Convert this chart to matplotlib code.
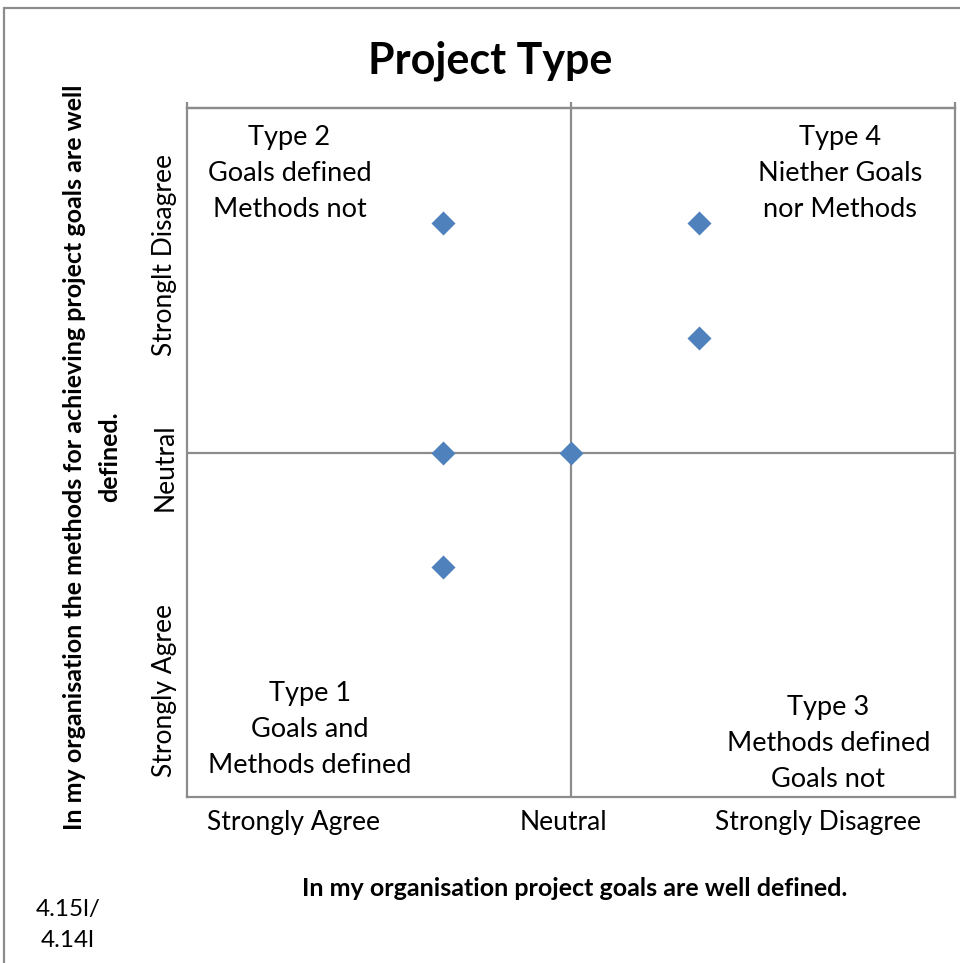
import matplotlib.pyplot as plt
from matplotlib.patches import Rectangle

plt.rcParams['font.family'] = ['Lato', 'DejaVu Sans']

# survey answers, scale 0..6 with neutral at 3
goals_x = [2, 4, 4, 2, 3, 2]
methods_y = [5, 5, 4, 3, 3, 2]

x_labels = ['Strongly Agree', 'Neutral', 'Strongly Disagree']
y_labels = ['Strongly Agree', 'Neutral', 'Stronglt Disagree']

quadrants = [
    'Type 2\nGoals defined\nMethods not',
    'Type 4\nNiether Goals\nnor Methods',
    'Type 1\nGoals and\nMethods defined',
    'Type 3\nMethods defined\nGoals not',
]

grey = '#8c8c8c'

fig = plt.figure(figsize=(9.6, 9.63), dpi=100)
ax = fig.add_axes([187 / 960, 1 - 797 / 963, 768 / 960, 689 / 963])

ax.scatter(goals_x, methods_y, marker='D', s=150, color='#4f81bd', zorder=3, linewidths=0)
ax.axvline(3, color=grey, lw=1.6, zorder=1)
ax.axhline(3, color=grey, lw=1.6, zorder=1)

ax.set_xlim(0, 6)
ax.set_ylim(0, 6)
for sp in ax.spines.values():
    sp.set_color(grey)
    sp.set_linewidth(1.6)

# category labels under / beside the plot area
ax.set_xticks([0.83, 2.94, 4.93], x_labels)
ax.set_yticks([0.93, 2.87, 4.72], y_labels)
ax.tick_params(axis='x', length=0, pad=9, labelsize=19)
ax.tick_params(axis='y', length=0, pad=7, labelsize=19)
for t in ax.get_yticklabels():
    t.set_rotation(90)
    t.set_va('center')

top = ax.secondary_xaxis('top')
top.set_xticks([0, 3, 6], ['', '', ''])
top.tick_params(length=4, width=1.6, color=grey)
top.spines['top'].set_color(grey)
top.spines['top'].set_linewidth(1.6)

# quadrant notes
pos = [(0.80, 5.43), (5.10, 5.43), (0.96, 0.59), (5.01, 0.47)]
for (qx, qy), txt in zip(pos, quadrants):
    ax.text(qx, qy, txt, ha='center', va='center', fontsize=19.5, linespacing=1.55)

fig.text(490 / 960, 1 - 61 / 963, 'Project Type', ha='center', va='center',
         fontsize=31, fontweight='bold')
fig.text(575 / 960, 1 - 888 / 963, 'In my organisation project goals are well defined.',
         ha='center', va='center', fontsize=18, fontweight='bold')
fig.text(92 / 960, 1 - 457 / 963,
         'In my organisation the methods for achieving project goals are well\ndefined.',
         ha='center', va='center', rotation=90, fontsize=18, fontweight='bold',
         linespacing=1.6)
fig.text(68 / 960, 1 - 925 / 963, '4.15l/\n4.14l', ha='center', va='center',
         fontsize=17.5, linespacing=1.55)

# outer chart frame, cut off at the right and bottom
fig.patches.append(Rectangle((4 / 960, -0.1), 1.2, 1 - 8 / 963 + 0.1,
                             transform=fig.transFigure, fill=False,
                             edgecolor=grey, lw=1.6))

fig.savefig('out.png', dpi=100)
